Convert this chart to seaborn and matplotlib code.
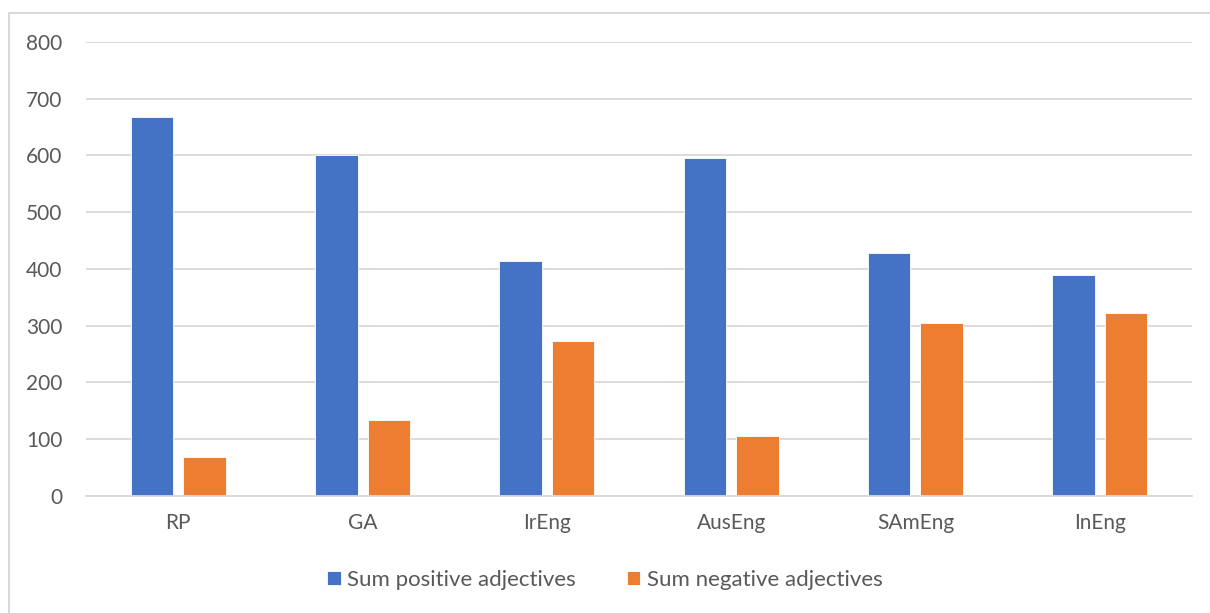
import matplotlib
matplotlib.use("Agg")
import matplotlib.pyplot as plt
import seaborn as sns
import pandas as pd
from matplotlib.patches import Rectangle

categories = ["RP", "GA", "IrEng", "AusEng", "SAmEng", "InEng"]
positive = [667, 600, 414, 596, 429, 389]
negative = [68, 134, 273, 105, 304, 322]
series_names = ["Sum positive adjectives", "Sum negative adjectives"]
y_ticks = [0, 100, 200, 300, 400, 500, 600, 700, 800]

df = pd.DataFrame({
    "category": categories * 2,
    "value": positive + negative,
    "series": [series_names[0]] * len(categories) + [series_names[1]] * len(categories),
})

sns.set_theme(style="white")
plt.rcParams["font.family"] = ["Lato", "DejaVu Sans"]

text_color = "#595959"
grid_color = "#D9D9D9"

fig = plt.figure(figsize=(12.1, 6.13), dpi=100)
ax = fig.add_axes([0.0711, 0.1909, 0.9140, 0.7406])

sns.barplot(
    data=df, x="category", y="value", hue="series",
    order=categories, hue_order=series_names,
    palette=["#4472C4", "#ED7D31"],
    width=0.57, gap=0.19, saturation=1,
    edgecolor="white", linewidth=0.6,
    ax=ax, legend=True,
)

ax.set_ylim(0, 800)
ax.set_xlim(-0.5, len(categories) - 0.5)
ax.set_yticks(y_ticks)
ax.set_yticklabels([str(t) for t in y_ticks])
ax.yaxis.grid(True, color=grid_color, linewidth=1.3)
ax.set_axisbelow(True)
for side in ["left", "right", "top"]:
    ax.spines[side].set_visible(False)
ax.spines["bottom"].set_color(grid_color)
ax.spines["bottom"].set_linewidth(1.3)
ax.set_xlabel("")
ax.set_ylabel("")
ax.tick_params(axis="y", length=0, pad=17, labelsize=15, labelcolor=text_color)
ax.tick_params(axis="x", length=0, pad=12, labelsize=15, labelcolor=text_color)

handles, labels = ax.get_legend_handles_labels()
ax.legend(
    handles, labels, loc="center", bbox_to_anchor=(0.5, 0.054),
    bbox_transform=fig.transFigure, ncol=2, frameon=False,
    fontsize=16, labelcolor=text_color, handlelength=0.6, handleheight=0.6,
    handletextpad=0.3, columnspacing=2.3,
)

# Chart frame
fig.patches.append(Rectangle(
    (9 / 1210, -0.05), 1.2, 1 - 13 / 613 + 0.05,
    transform=fig.transFigure, fill=False, edgecolor=grid_color, linewidth=1.5,
))

fig.savefig("out.png", dpi=100, facecolor="white")
